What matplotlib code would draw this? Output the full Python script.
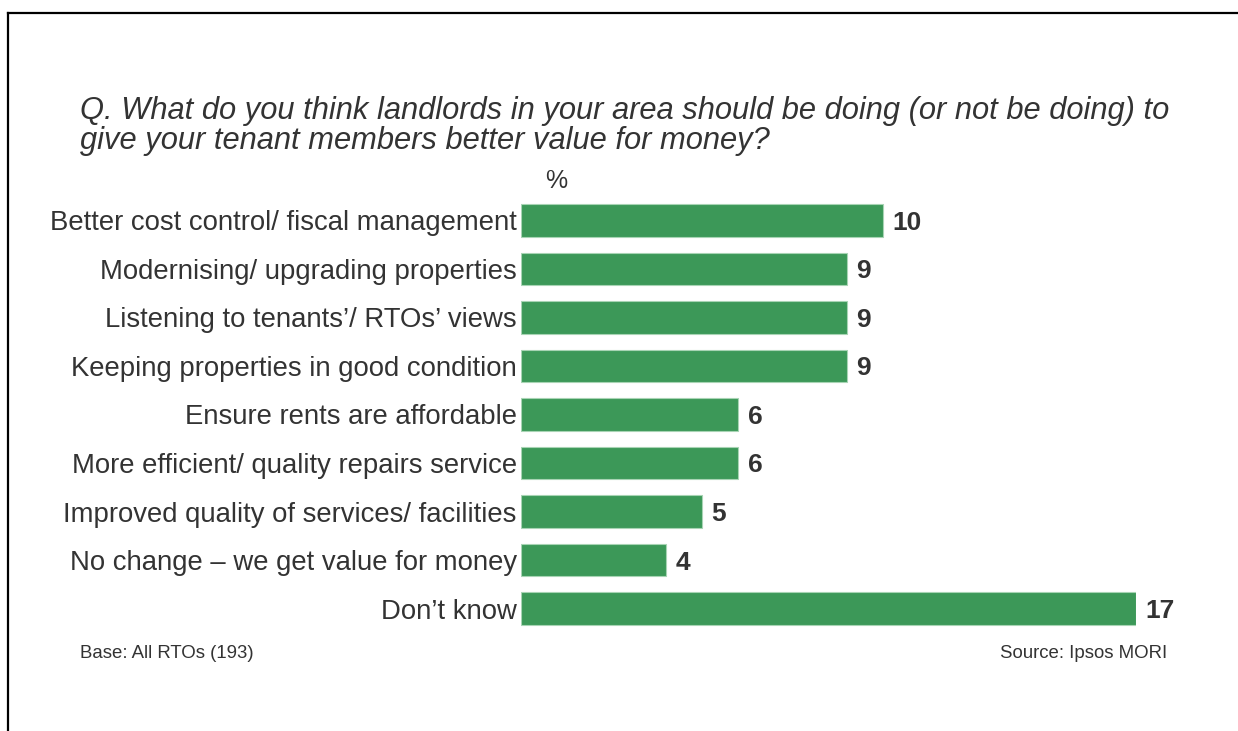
import numpy as np
import matplotlib
matplotlib.use('Agg')
import matplotlib.pyplot as plt
from matplotlib.lines import Line2D

plt.rcParams['font.family'] = ['Liberation Sans', 'DejaVu Sans']

# data
categories = ['Better cost control/ fiscal management',
              'Modernising/ upgrading properties',
              'Listening to tenants\u2019/ RTOs\u2019 views',
              'Keeping properties in good condition',
              'Ensure rents are affordable',
              'More efficient/ quality repairs service',
              'Improved quality of services/ facilities',
              'No change \u2013 we get value for money',
              'Don\u2019t know']
values = [10, 9, 9, 9, 6, 6, 5, 4, 17]

title_lines = ['Q. What do you think landlords in your area should be doing (or not be doing) to',
               'give your tenant members better value for money?']

green = '#3c9858'
txt = '#333333'

W, H = 1238, 731
fig = plt.figure(figsize=(W/100, H/100), dpi=100)

# axes placement in pixels
x0, x17 = 521, 1136
ytop, ybot = 196, 633
ax = fig.add_axes([x0/W, 1-ybot/H, (x17-x0)/W, (ybot-ytop)/H])

y = np.arange(len(values))
ax.barh(y, values, height=0.67, color=green, edgecolor='#a8d4b4', linewidth=0.8)
ax.set_xlim(0, 17)
ax.set_ylim(len(values)-0.5, -0.5)

for i, v in enumerate(values):
    ax.text(v + 0.27, i + 0.05, str(v), ha='left', va='center', fontsize=19,
            fontweight='bold', color=txt, clip_on=False)

ax.set_yticks(y)
ax.set_yticklabels(categories, fontsize=19.8, color=txt)
ax.tick_params(axis='y', length=0, pad=3)
ax.set_xticks([])
for s in ax.spines.values():
    s.set_visible(False)

fig.text(556/W, 1-181/H, '%', fontsize=18, color=txt, ha='center', va='center')

fig.text(80/W, 1-119.5/H, title_lines[0], fontsize=22.2, style='italic', color=txt,
         ha='left', va='baseline')
fig.text(80/W, 1-148.5/H, title_lines[1], fontsize=22.2, style='italic', color=txt,
         ha='left', va='baseline')

fig.text(80/W, 1-658/H, 'Base: All RTOs (193)', fontsize=13.4, color=txt,
         ha='left', va='baseline')
fig.text(1167/W, 1-658/H, 'Source: Ipsos MORI', fontsize=13.4, color=txt,
         ha='right', va='baseline')

# frame clipped at right and bottom
fig.add_artist(Line2D([8/W, 1], [1-12.5/H, 1-12.5/H], color='black', lw=1.6))
fig.add_artist(Line2D([8/W, 8/W], [1-12.5/H, 0], color='black', lw=1.6))

fig.savefig('out.png', dpi=100)
